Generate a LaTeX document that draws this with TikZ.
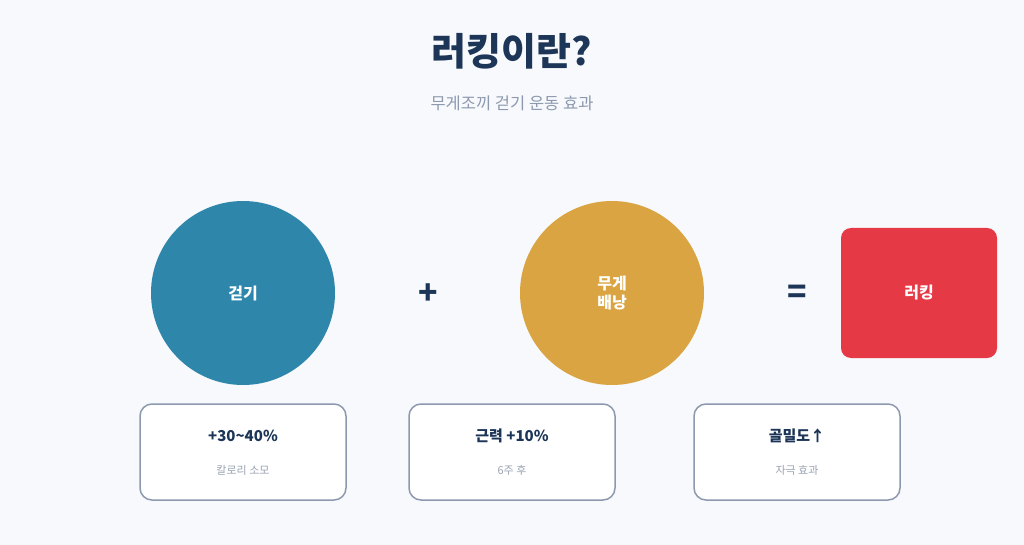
\documentclass[tikz,border=0pt]{standalone}
\usepackage{fontspec}
\setmainfont{Noto Sans CJK KR}
\definecolor{bgc}{HTML}{F7F9FC}
\definecolor{navy}{HTML}{1D3557}
\definecolor{subg}{HTML}{8D99AE}
\definecolor{walkc}{HTML}{2E86AB}
\definecolor{packc}{HTML}{D9A441}
\definecolor{ruckc}{HTML}{E63946}
\definecolor{boxb}{HTML}{8D99AE}
\definecolor{smallg}{HTML}{9AA3B2}
\tikzset{
  circ/.style={circle,minimum size=184pt,inner sep=0pt,text=white,font=\fontsize{16}{19}\selectfont\bfseries,align=center},
  statbox/.style={draw=boxb,line width=1.5pt,fill=white,rounded corners=12pt,minimum width=206pt,minimum height=96pt},
  stattop/.style={text=navy,font=\fontsize{15}{18}\selectfont\bfseries},
  statsub/.style={text=smallg,font=\fontsize{11}{13}\selectfont},
  op/.style={text=navy,font=\fontsize{32}{36}\selectfont\bfseries}
}
\begin{document}
\begin{tikzpicture}[x=1pt,y=-1pt]
\fill[bgc] (0,0) rectangle (1024,545);
\useasboundingbox (0,0) rectangle (1024,545);
\node[text=navy,font=\fontsize{38}{44}\selectfont\bfseries] (title) at (512,51) {러킹이란?};
\node[text=subg,font=\fontsize{16.5}{19}\selectfont] (subtitle) at (512,103) {무게조끼 걷기 운동 효과};
\node[circ,fill=walkc] (walk) at (243,293) {걷기};
\node[op] (plus) at (428,294) {+};
\node[circ,fill=packc] (pack) at (612,293) {무게\\배낭};
\node[op] (eq) at (797,294) {=};
\node[fill=ruckc,rounded corners=10pt,minimum width=156pt,minimum height=130pt,text=white,font=\fontsize{16}{19}\selectfont\bfseries] (ruck) at (919,293) {러킹};
\node[statbox] (b1) at (243,452) {};
\node[stattop] (b1t) at (243,436) {+30\textasciitilde 40\%};
\node[statsub] (b1s) at (243,470) {칼로리 소모};
\node[statbox] (b2) at (512,452) {};
\node[stattop] (b2t) at (512,436) {근력 +10\%};
\node[statsub] (b2s) at (512,470) {6주 후};
\node[statbox] (b3) at (797,452) {};
\node[stattop] (b3t) at (797,436) {골밀도↑};
\node[statsub] (b3s) at (797,470) {자극 효과};
\end{tikzpicture}
\end{document}
